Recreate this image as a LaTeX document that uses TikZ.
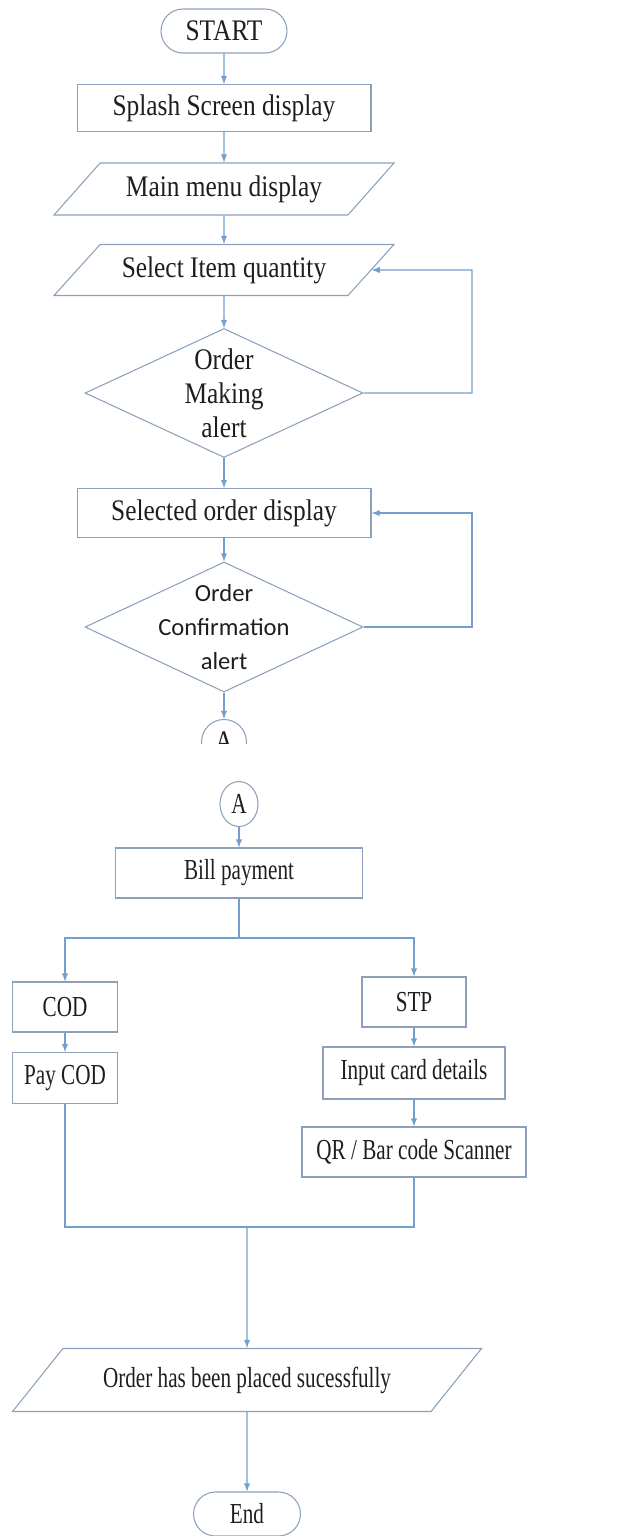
\documentclass[tikz,border=0pt]{standalone}
\usepackage{fontspec}
\setmainfont{Liberation Serif}[FakeStretch=0.85]
\newfontfamily\narrowserif{Liberation Serif}[FakeStretch=0.73]
\newfontfamily\calibrifont{Carlito}
\usepackage{xcolor}
\usetikzlibrary{arrows}
\usetikzlibrary{shapes.geometric, shapes.misc}
\definecolor{myblue}{RGB}{115,158,206}
\definecolor{mygray}{RGB}{140,160,188}
\definecolor{mytext}{RGB}{30,30,30}

\tikzset{
  procbox/.style={draw=mygray, line width=0.6pt, rectangle, text=mytext, inner sep=2pt},
  terminal/.style={procbox, rounded rectangle},
  io/.style={procbox, trapezium, trapezium stretches body},
  decision/.style={procbox, diamond, shape aspect=2.15, inner sep=-4pt, align=center},
  connector/.style={procbox, inner sep=0pt},
  topfont/.style={font=\fontsize{17}{19.3}\selectfont},
  botfont/.style={font=\narrowserif\fontsize{16.5}{19.3}\selectfont},
  flow/.style={-latex, draw=myblue, line width=0.6pt},
  plainline/.style={draw=myblue, line width=0.6pt},
}

\begin{document}
\begin{tikzpicture}[x=0.02cm, y=-0.02cm]
\useasboundingbox (0,0) rectangle (635,1536);

% first screen
\node[terminal, topfont, minimum width=2.66cm, minimum height=0.88cm] (start) at (224,31) {START};
\node[procbox, topfont, minimum width=5.88cm, minimum height=0.94cm] (splash) at (224,108) {Splash Screen display};
\node[io, topfont, trapezium left angle=36.6, trapezium right angle=143.4,
      minimum width=6.8cm, minimum height=1.04cm] (menu) at (224,189) {Main menu display};
\node[io, topfont, trapezium left angle=36.6, trapezium right angle=143.4,
      minimum width=6.8cm, minimum height=1.02cm] (select) at (224,270) {Select Item quantity};
\node[decision, topfont, minimum width=5.56cm, minimum height=2.58cm] (making) at (224,393) {Order\\Making\\alert};
\node[procbox, topfont, minimum width=5.88cm, minimum height=0.98cm] (selected) at (224,513) {Selected order display};
\node[decision, font=\calibrifont\fontsize{14}{19.3}\selectfont,
      minimum width=5.56cm, minimum height=2.6cm] (confirm) at (224,627) {Order\\Confirmation\\alert};
\begin{scope}
\clip (0,0) rectangle (635,743);
\node[connector, circle, topfont, minimum size=0.9cm] (conA) at (224,742) {A};
\end{scope}

\coordinate (loopA) at (472,270);
\coordinate (loopB) at (472,513);

\draw[flow] (start) -- (splash);
\draw[flow] (splash) -- (menu);
\draw[flow] (menu) -- (select);
\draw[flow] (select) -- (making);
\draw[flow] (making) -- (selected);
\draw[flow] (selected) -- (confirm);
\draw[flow] (confirm) -- (conA);
\draw[flow] (making.east) -| (loopA) -- (select.east);
\draw[flow] (confirm.east) -| (loopB) -- (selected.east);

% second screen
\node[connector, ellipse, botfont, minimum width=0.76cm, minimum height=0.9cm] (conB) at (239,804) {A};
\node[procbox, botfont, minimum width=4.94cm, minimum height=1cm] (bill) at (239,873) {Bill payment};
\node[procbox, botfont, minimum width=2.1cm, minimum height=1cm] (cod) at (65,1007) {COD};
\node[procbox, botfont, minimum width=2.08cm, minimum height=1cm] (stp) at (414,1002) {STP};
\node[procbox, botfont, minimum width=2.1cm, minimum height=1.02cm] (paycod) at (65,1078) {Pay COD};
\node[procbox, botfont, minimum width=3.64cm, minimum height=1.04cm] (card) at (414,1073) {Input card details};
\node[procbox, botfont, minimum width=4.48cm, minimum height=1cm] (scan) at (414,1152) {QR / Bar code Scanner};
\node[io, botfont, trapezium left angle=33.8, trapezium right angle=146.2,
      minimum width=9.38cm, minimum height=1.26cm] (placed) at (247,1380) {Order has been placed sucessfully};
\node[terminal, botfont, minimum width=2.28cm, minimum height=0.88cm] (end) at (247,1514) {End};

\coordinate (split) at (239,938);
\coordinate (merge) at (247,1227);

\draw[flow] (conB) -- (bill);
\draw[plainline] (bill) -- (split);
\draw[flow] (split) -| (cod);
\draw[flow] (split) -| (stp);
\draw[flow] (cod) -- (paycod);
\draw[flow] (stp) -- (card);
\draw[flow] (card) -- (scan);
\draw[plainline] (paycod) |- (merge);
\draw[plainline] (scan) |- (merge);
\draw[flow] (merge) -- (placed);
\draw[flow] (placed) -- (end);
\end{tikzpicture}
\end{document}
